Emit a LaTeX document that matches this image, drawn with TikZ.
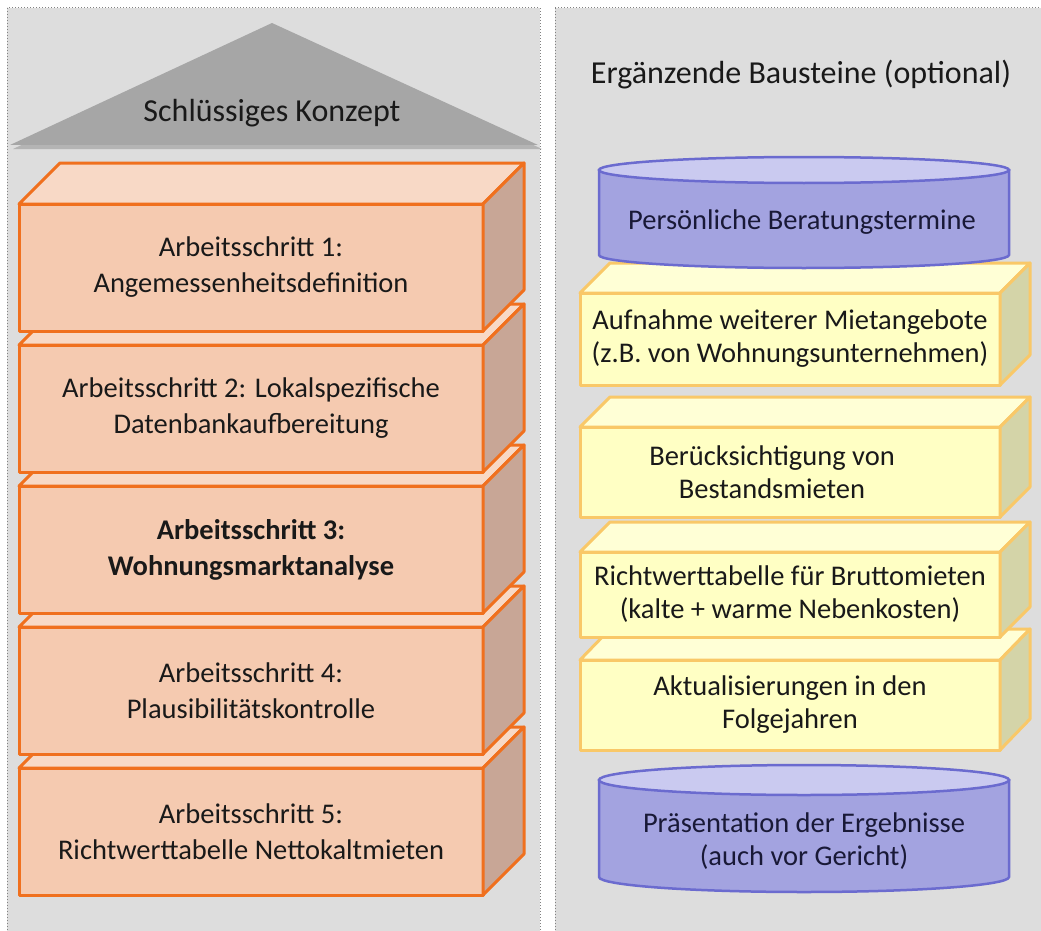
\documentclass[tikz,border=0pt]{standalone}
\usepackage{fontspec}
\setmainfont{Carlito}
\usetikzlibrary{positioning}
\definecolor{panelgrau}{RGB}{221,221,221}
\definecolor{randgrau}{RGB}{130,130,130}
\definecolor{dachgrau}{RGB}{166,166,166}
\definecolor{schattengrau}{RGB}{140,140,140}
\definecolor{orangerand}{RGB}{240,112,30}
\definecolor{pfirsich}{RGB}{245,202,176}
\definecolor{pfirsichhell}{RGB}{248,217,198}
\definecolor{pfirsichdunkel}{RGB}{200,166,150}
\definecolor{gelbrand}{RGB}{249,200,104}
\definecolor{gelbfront}{RGB}{255,255,196}
\definecolor{gelbhell}{RGB}{255,255,214}
\definecolor{gelbdunkel}{RGB}{212,212,168}
\definecolor{lilarand}{RGB}{107,107,207}
\definecolor{lilakoerper}{RGB}{163,163,224}
\definecolor{liladeckel}{RGB}{202,202,240}
\definecolor{textdunkel}{RGB}{25,25,25}
\tikzset{
  panel/.style={fill=panelgrau, draw=randgrau, dotted, line width=1pt},
  titel/.style={text=textdunkel, font=\fontsize{32pt}{38pt}\selectfont},
  stufe/.style={rectangle, minimum width=464pt, minimum height=127pt,
    align=center, draw=orangerand, line width=3pt, fill=pfirsich,
    text=textdunkel, outer sep=0pt, line join=round,
    font=\fontsize{28.5pt}{36pt}\selectfont},
  stufeoben/.style={draw=orangerand, line width=3pt, fill=pfirsichhell, line join=round},
  stufeseite/.style={draw=orangerand, line width=3pt, fill=pfirsichdunkel, line join=round},
  baustein/.style={rectangle, minimum width=420pt, align=center,
    draw=gelbrand, line width=3pt, fill=gelbfront, text=textdunkel,
    outer sep=0pt, line join=round},
  bausteinoben/.style={draw=gelbrand, line width=3pt, fill=gelbhell, line join=round},
  bausteinseite/.style={draw=gelbrand, line width=3pt, fill=gelbdunkel, line join=round},
  zylkoerper/.style={draw=lilarand, line width=2.5pt, fill=lilakoerper},
  zyldeckel/.style={draw=lilarand, line width=2.5pt, fill=liladeckel},
  zyltext/.style={align=center, text={rgb,255:red,25;green,25;blue,55}},
}
% Seiten eines Quaders an einen Knoten anhaengen
\newcommand{\quaderseiten}[4]{%
  \draw[#4oben] (#1.north west) -- ++(#2,-#3) -- ([shift={(#2,-#3)}]#1.north east)
    -- (#1.north east) -- cycle;
  \draw[#4seite] (#1.north east) -- ++(#2,-#3) -- ([shift={(#2,-#3)}]#1.south east)
    -- (#1.south east) -- cycle;
}
% Zylinder: Mitte x, obere Ellipse y, untere Ellipse y, halbe Breite, Radius y
\newcommand{\zylinder}[5]{%
  \draw[zylkoerper] (#1-#4,#2) -- (#1-#4,#3)
    arc[start angle=180, end angle=360, x radius=#4pt, y radius=#5pt]
    -- (#1+#4,#2) -- cycle;
  \draw[zyldeckel] (#1,#2) ellipse[x radius=#4pt, y radius=#5pt];
}
\begin{document}
\begin{tikzpicture}[x=1pt, y=-1pt, font=\fontsize{28.5pt}{33pt}\selectfont]
\useasboundingbox (0,0) rectangle (1041,931);
\fill[white] (0,0) rectangle (1041,931);

% Hintergrundflaechen
\path[panel] (7,8) rectangle (540,945);
\path[panel] (555,8) rectangle (1060,945);

% Dach
\fill[schattengrau, opacity=0.5] (13,149) -- (276,26) -- (542,149) -- cycle;
\fill[dachgrau] (10,145) -- (272,23) -- (538,145) -- cycle;
\node[titel] (konzept) at (272,113) {Schlüssiges Konzept};

% Arbeitsschritte (von unten nach oben)
\node (as5) [stufe] at (251,831.5)
      {Arbeitsschritt 5:\\ Richtwerttabelle Nettokaltmieten};
\quaderseiten{as5}{41}{41}{stufe}
\node (as4) [stufe, above=14pt of as5]
      {Arbeitsschritt 4:\\ Plausibilitätskontrolle};
\quaderseiten{as4}{41}{41}{stufe}
\node (as3) [stufe, above=14pt of as4, font=\fontsize{28.5pt}{36pt}\selectfont\bfseries]
      {Arbeitsschritt 3:\\ Wohnungsmarktanalyse};
\quaderseiten{as3}{41}{41}{stufe}
\node (as2) [stufe, above=14pt of as3]
      {Arbeitsschritt 2: Lokalspezifische\\ Datenbankaufbereitung};
\quaderseiten{as2}{41}{41}{stufe}
\node (as1) [stufe, above=14pt of as2]
      {Arbeitsschritt 1:\\ Angemessenheitsdefinition};
\quaderseiten{as1}{41}{41}{stufe}

% Ergaenzende Bausteine
\node[titel] (bausteine) at (801,75) {Ergänzende Bausteine (optional)};

\node (aktual) [baustein, minimum height=90pt] at (790,705)
      {Aktualisierungen in den\\ Folgejahren};
\quaderseiten{aktual}{30}{31}{baustein}
\node (brutto) [baustein, minimum height=85pt, above=23pt of aktual]
      {Richtwerttabelle für Bruttomieten\\ (kalte + warme Nebenkosten)};
\quaderseiten{brutto}{30}{30}{baustein}
\node (bestand) [baustein, minimum height=90pt, above=35pt of brutto]
      {Berücksichtigung von\hspace*{36pt}\\ Bestandsmieten\hspace*{36pt}};
\quaderseiten{bestand}{30}{30}{baustein}
\node (miet) [baustein, minimum height=92pt, above=42pt of bestand]
      {Aufnahme weiterer Mietangebote\\ (z.B. von Wohnungsunternehmen)};
\quaderseiten{miet}{30}{30}{baustein}

\zylinder{804}{170}{255}{205}{13}
\node (beratung) [zyltext] at (802,222) {Persönliche Beratungstermine};
\zylinder{804}{780}{877}{205}{15}
\node (praesentation) [zyltext] at (804,841)
      {Präsentation der Ergebnisse\\ (auch vor Gericht)};
\end{tikzpicture}
\end{document}
